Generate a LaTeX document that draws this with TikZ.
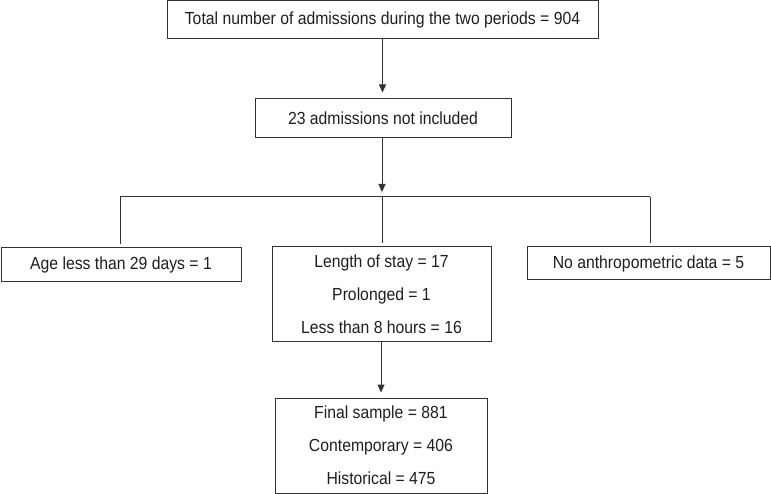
\documentclass[tikz,border=0pt]{standalone}
\usepackage{fontspec}
\setmainfont{Liberation Sans}[FakeStretch=0.9]
\usetikzlibrary{arrows.meta,calc}
\definecolor{linec}{HTML}{333333}
\definecolor{textc}{HTML}{1E1E1E}
\begin{document}
\begin{tikzpicture}[x=1pt,y=-1pt,
  box/.style={draw=linec, line width=1pt, inner sep=0pt, align=center, text=textc,
    font=\fontsize{17.5pt}{33pt}\selectfont},
  arr/.style={draw=linec, line width=1pt, -{Triangle[length=8pt,width=7pt]}},
  ln/.style={draw=linec, line width=1pt}]
\useasboundingbox (0,0) rectangle (771,494);
\node[box, minimum width=431pt, minimum height=38pt] (total) at (382.5,19.5)
  {Total number of admissions during the two periods = 904};
\node[box, minimum width=256pt, minimum height=39pt] (excl) at (383,118.5)
  {23 admissions not included};
\node[box, minimum width=240pt, minimum height=34pt] (age) at (121,265)
  {Age less than 29 days = 1};
\node[box, minimum width=219pt, minimum height=94pt] (stay) at (381.5,294)
  {Length of stay = 17\\Prolonged = 1\\Less than 8 hours = 16};
\node[box, minimum width=243pt, minimum height=33pt] (anthro) at (648.5,263.5)
  {No anthropometric data = 5};
\node[box, minimum width=212pt, minimum height=95pt] (final) at (381,445.5)
  {Final sample = 881\\Contemporary = 406\\Historical = 475};
\coordinate (hub) at (382,197);
\coordinate (hl) at (120,197);
\coordinate (hr) at (650,197);
\draw[arr, shorten >=6pt] (total.south) -- (total.south |- excl.north);
\draw[arr, shorten >=5pt] (excl.south -| hub) -- (hub);
\draw[ln] (hl) -- (hr);
\draw[ln, shorten >=3pt] (hl) -- (hl |- age.north);
\draw[ln, shorten >=3pt] (hub) -- (hub |- stay.north);
\draw[ln, shorten >=3pt] (hr) -- (hr |- anthro.north);
\draw[arr, shorten >=5pt] (stay.south -| final.north) -- (final.north);
\end{tikzpicture}
\end{document}
